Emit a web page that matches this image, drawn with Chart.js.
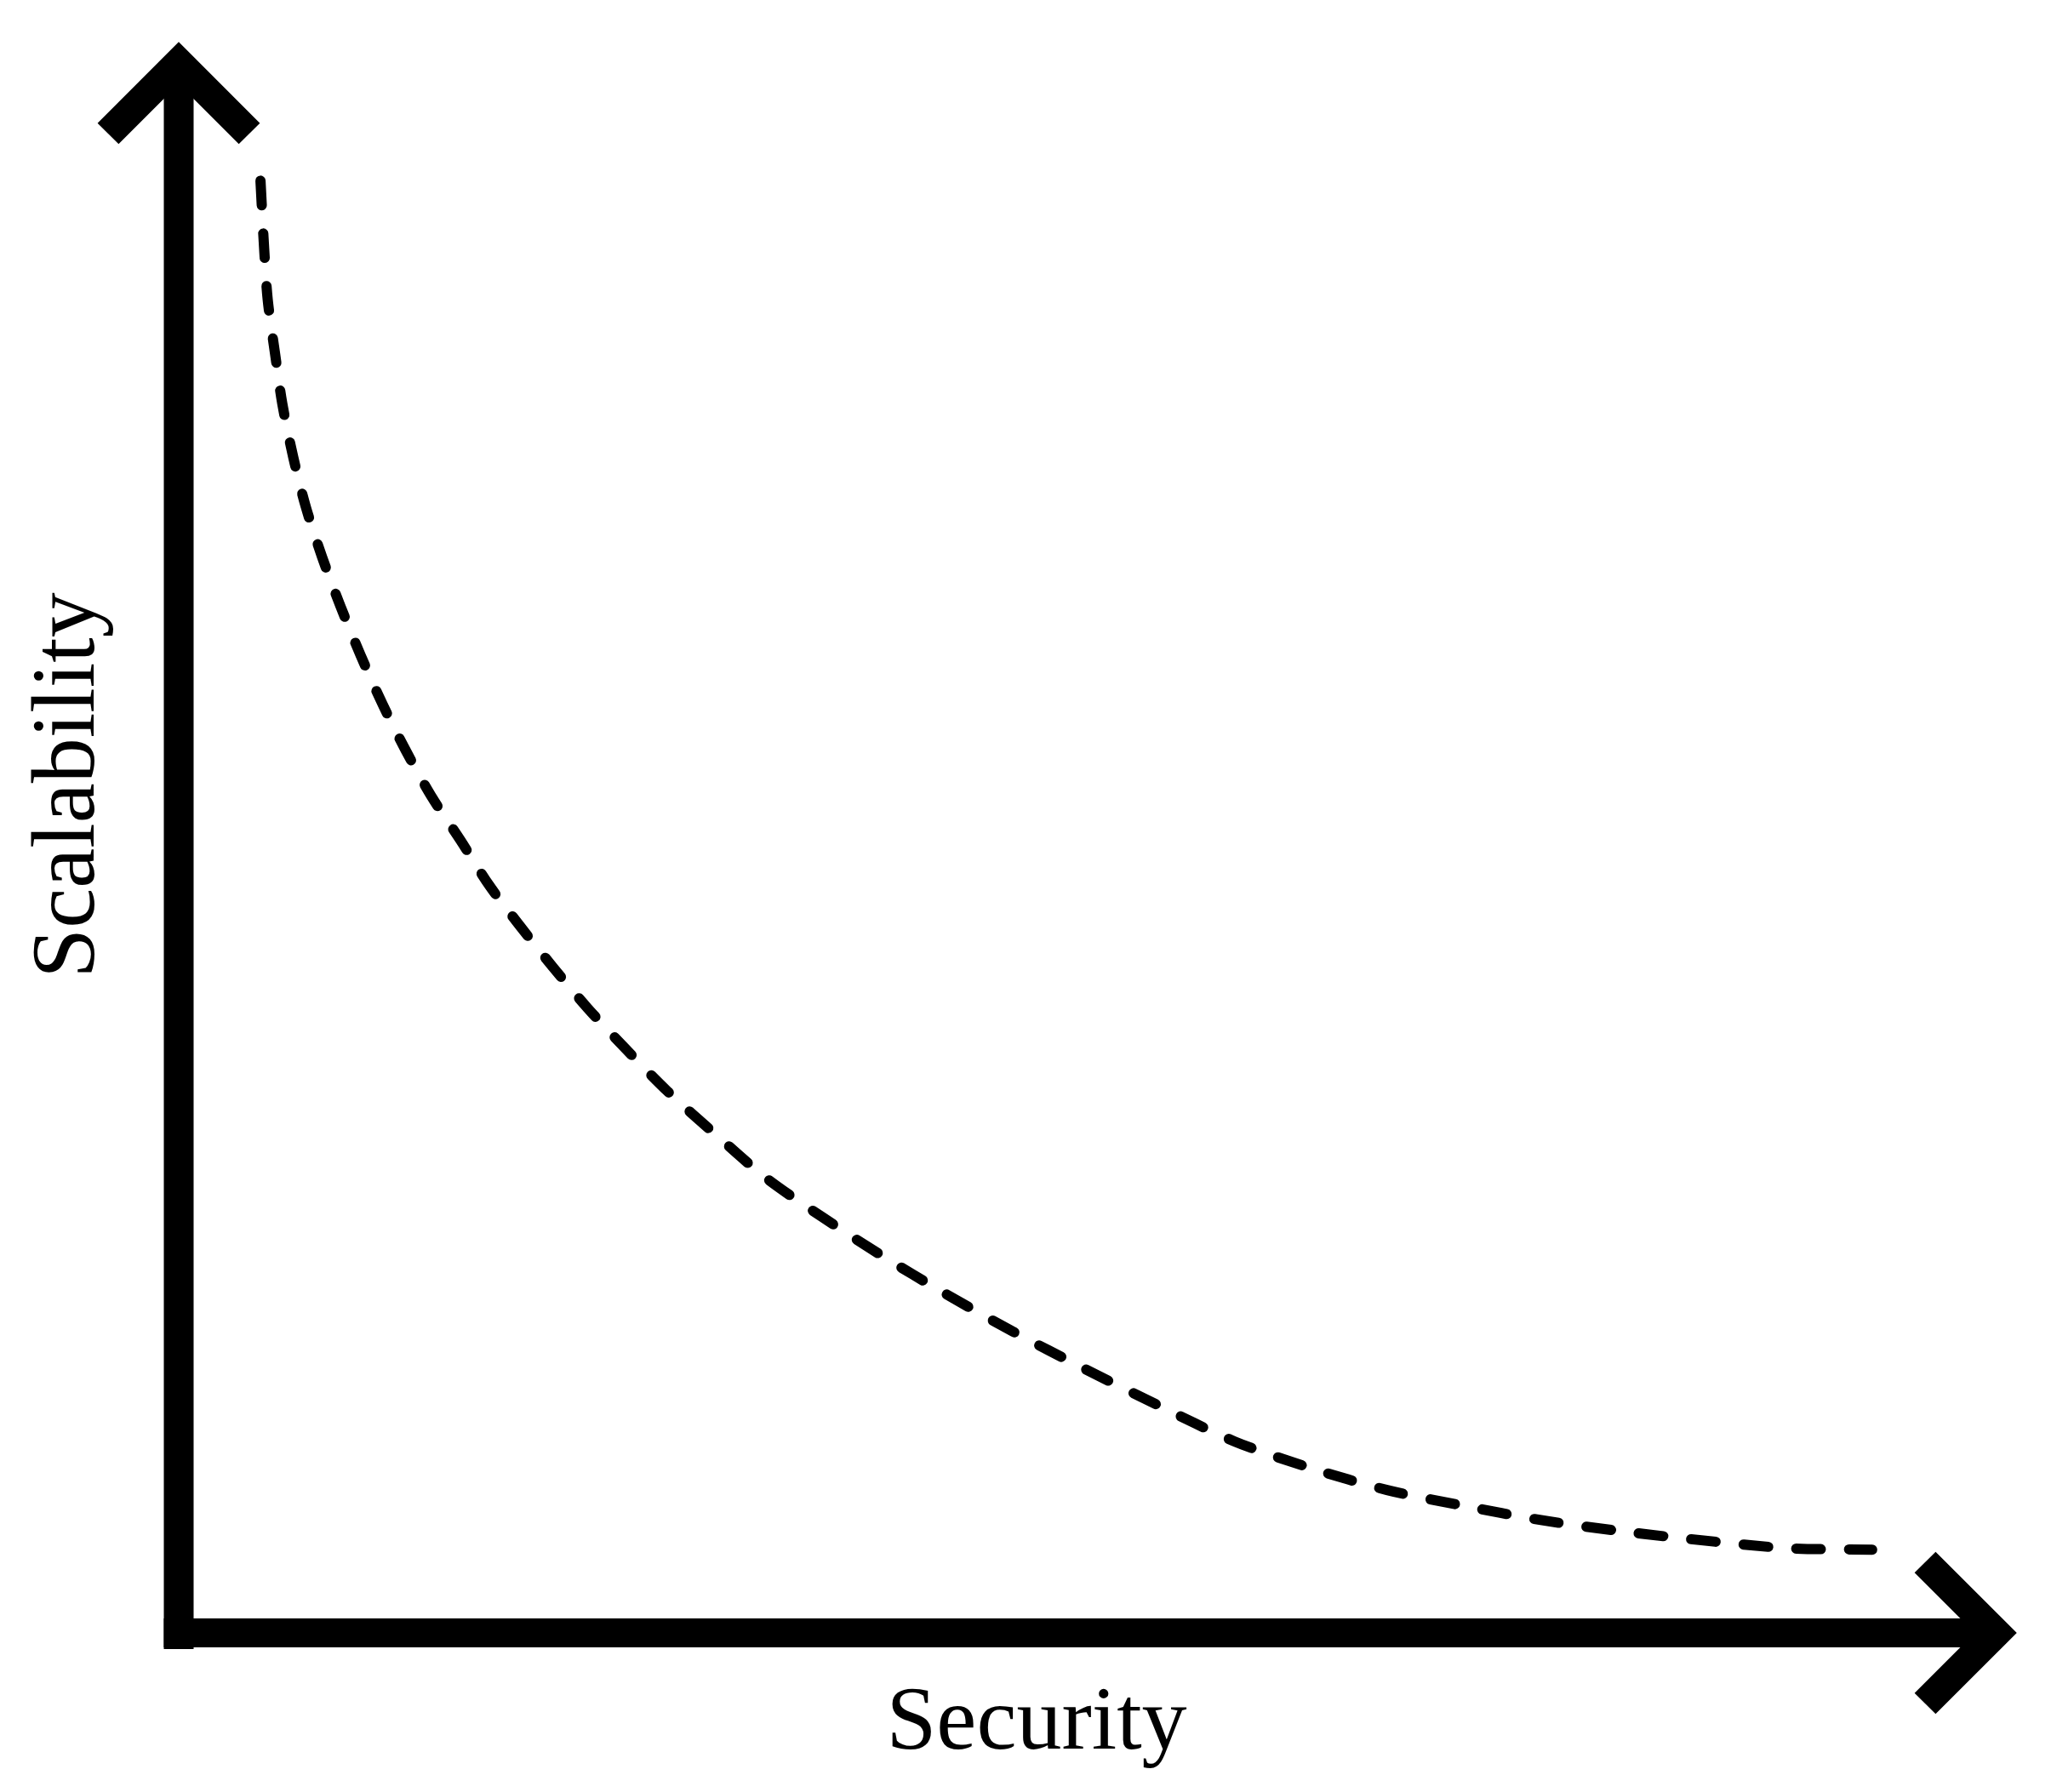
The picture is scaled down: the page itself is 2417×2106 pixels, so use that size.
<!DOCTYPE html>
<html>
<head>
<meta charset="utf-8">
<title>Scalability vs Security</title>
<script src="https://cdn.jsdelivr.net/npm/chart.js@4.4.1/dist/chart.umd.min.js"></script>
<style>
    html, body { margin: 0; padding: 0; background: #fff; }
    .chart-container { position: relative; width: 2417px; height: 2106px; }
</style>
</head>
<body>
<div class="chart-container">
    <canvas id="tradeoffChart"></canvas>
</div>
<script>
// Axis titles
const xAxisLabel = 'Security'
const yAxisLabel = 'Scalability'

// Trade-off curve (0-100 on both axes)
const securityValues = [4.5, 4.7, 4.9, 5.3, 5.7, 6.3, 7.0, 7.9, 8.9, 10.0, 11.2, 12.5, 13.9, 15.5, 17.1, 18.8,
    20.6, 22.5, 24.6, 26.9, 29.5, 32.3, 35.4, 38.6, 42.2, 45.9, 49.9, 53.9, 58.1, 62.3, 66.5, 70.7,
    74.9, 79.2, 83.8, 88.5, 93.2]
const scalabilityValues = [92.5, 88.2, 84.9, 81.5, 78.3, 74.9, 71.7, 68.5, 65.4, 62.3, 59.2, 56.2, 53.3, 50.5, 47.6, 45.0,
    42.4, 39.8, 37.2, 34.5, 31.8, 29.0, 26.5, 24.1, 21.6, 19.2, 16.8, 14.5, 12.2, 10.5, 9.1, 8.1,
    7.2, 6.5, 5.9, 5.4, 5.3]

// Draws the thick arrowed axes and the two axis titles
const arrowAxesPlugin = {
    id: 'arrowAxes',
    afterDraw(chart) {
        const ctx = chart.ctx
        const xScale = chart.scales.x
        const yScale = chart.scales.y
        const originX = xScale.getPixelForValue(0)
        const originY = yScale.getPixelForValue(0)
        const topY = yScale.getPixelForValue(100)
        const rightX = xScale.getPixelForValue(100)
        const armLength = 83

        ctx.save()
        ctx.strokeStyle = '#000'
        ctx.lineCap = 'butt'
        ctx.lineJoin = 'miter'

        // Vertical axis
        ctx.lineWidth = 35
        ctx.beginPath()
        ctx.moveTo(originX, originY + 19)
        ctx.lineTo(originX, topY)
        ctx.stroke()

        // Horizontal axis
        ctx.lineWidth = 34
        ctx.beginPath()
        ctx.moveTo(originX - 17.5, originY)
        ctx.lineTo(rightX, originY)
        ctx.stroke()

        // Arrow heads
        ctx.lineWidth = 35
        ctx.beginPath()
        ctx.moveTo(originX - armLength, topY + armLength)
        ctx.lineTo(originX, topY)
        ctx.lineTo(originX + armLength, topY + armLength)
        ctx.stroke()

        ctx.beginPath()
        ctx.moveTo(rightX - armLength, originY - armLength)
        ctx.lineTo(rightX, originY)
        ctx.lineTo(rightX - armLength, originY + armLength)
        ctx.stroke()

        // Axis titles
        ctx.fillStyle = '#000'
        ctx.font = '106px "Liberation Serif", serif'
        ctx.textAlign = 'center'
        ctx.textBaseline = 'alphabetic'
        ctx.fillText(xAxisLabel, 1218, 2055)

        ctx.translate(110, 923)
        ctx.rotate(-Math.PI / 2)
        ctx.fillText(yAxisLabel, 0, 0)
        ctx.restore()
    }
}

function initializeChart() {
    const points = securityValues.map((x, i) => ({ x: x, y: scalabilityValues[i] }))

    new Chart(document.getElementById('tradeoffChart'), {
        type: 'scatter',
        data: {
            datasets: [{
                label: 'Trade-off',
                data: points,
                showLine: true,
                borderColor: '#000',
                borderWidth: 12,
                borderDash: [29, 33],
                borderCapStyle: 'round',
                tension: 0.3,
                pointRadius: 0,
                clip: false
            }]
        },
        options: {
            responsive: true,
            maintainAspectRatio: false,
            devicePixelRatio: 1,
            animation: false,
            layout: {
                padding: { left: 210, right: 72, top: 74, bottom: 187 }
            },
            plugins: {
                legend: { display: false },
                tooltip: { enabled: false }
            },
            scales: {
                x: { type: 'linear', min: 0, max: 100, display: false },
                y: { type: 'linear', min: 0, max: 100, display: false }
            }
        },
        plugins: [arrowAxesPlugin]
    })
}

document.addEventListener('DOMContentLoaded', initializeChart)
</script>
</body>
</html>
